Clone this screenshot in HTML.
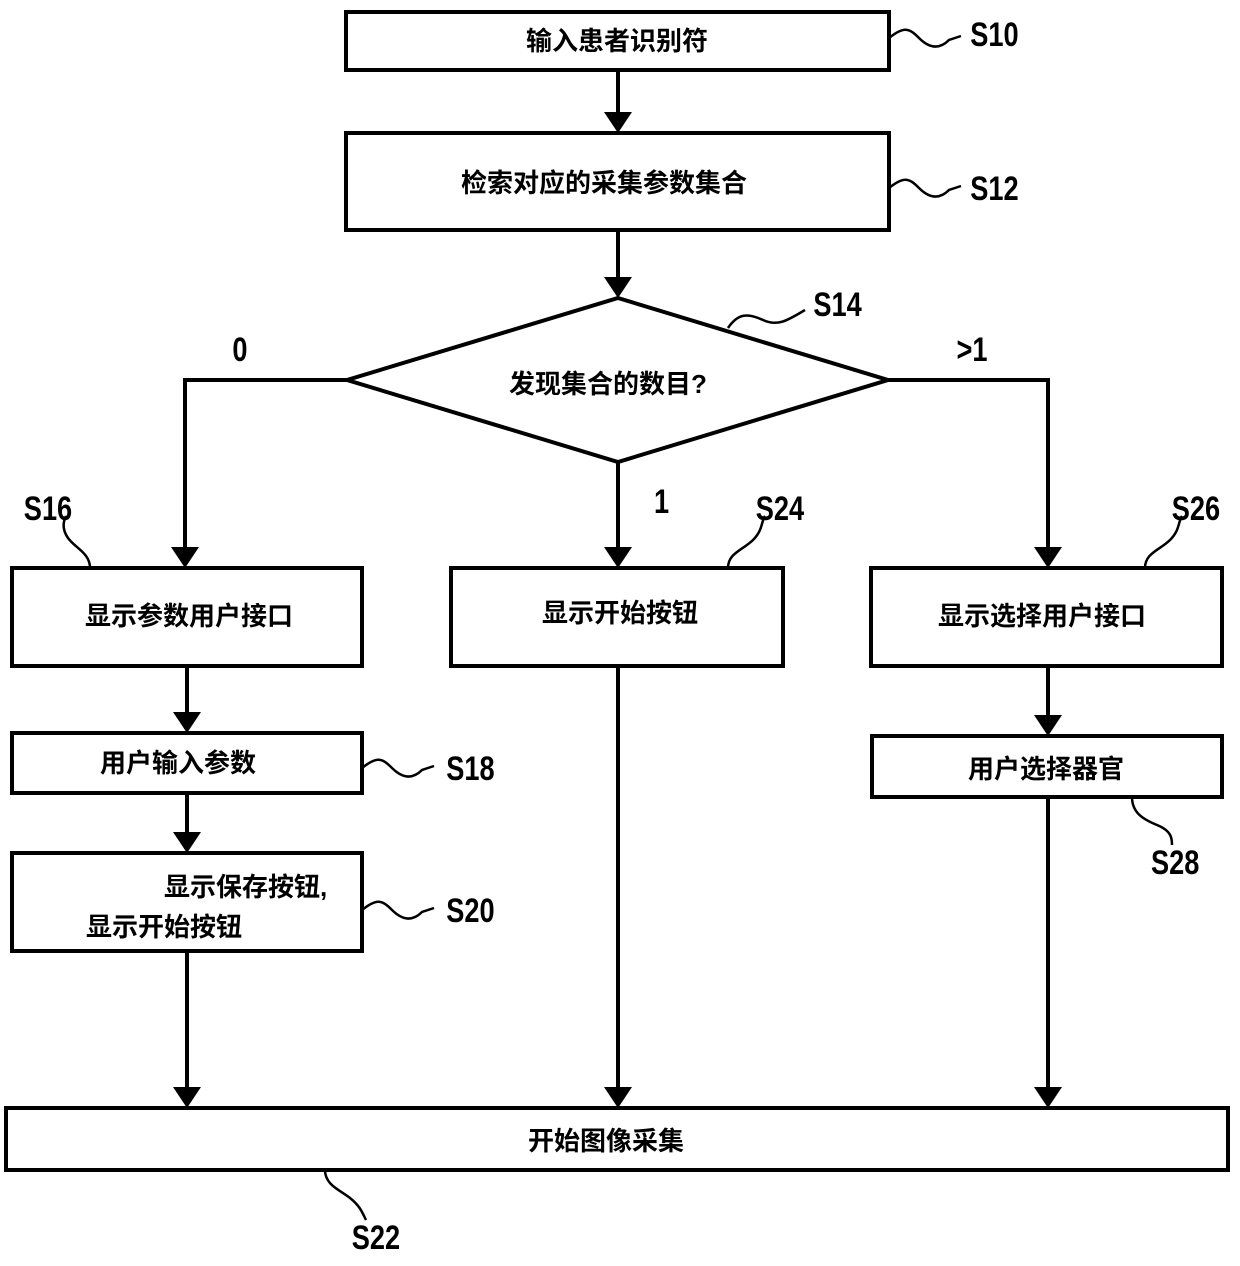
<!DOCTYPE html>
<html><head><meta charset="utf-8"><style>
body{margin:0;background:#fff}
svg text{font-family:"Liberation Sans","Noto Sans CJK SC",sans-serif;font-weight:bold;fill:#000}
.c{font-size:26px;text-anchor:middle}
.l{font-size:34px;text-anchor:middle}
</style></head><body>
<svg width="1240" height="1261" viewBox="0 0 1240 1261" xmlns="http://www.w3.org/2000/svg">
<defs><marker id="a" markerWidth="10" markerHeight="10" refX="9" refY="5" orient="auto" markerUnits="userSpaceOnUse" viewBox="0 0 10 10"><path d="M0,0 L10,5 L0,10z" fill="#000"/></marker></defs>
<g fill="none" stroke="#000" stroke-width="4">
<rect x="346" y="12" width="543" height="58"/>
<rect x="346" y="133" width="543" height="97"/>
<polygon points="618,298 888,380 618,462 347,380"/>
<rect x="12" y="568" width="350" height="98"/>
<rect x="451" y="568" width="332" height="98"/>
<rect x="871" y="568" width="351" height="98"/>
<rect x="12" y="733" width="350" height="60"/>
<rect x="872" y="736" width="350" height="61"/>
<rect x="12" y="853" width="350" height="98"/>
<rect x="6" y="1108" width="1222" height="62"/>
</g>
<g stroke="#000" stroke-width="4" fill="none">
<path d="M618 70V113"/><path d="M618 230V278"/>
<path d="M347 380H185V548"/><path d="M888 380H1048V548"/>
<path d="M618 462V548"/>
<path d="M187 666V713"/><path d="M187 793V833"/><path d="M187 951V1088"/>
<path d="M618 666V1088"/><path d="M1048 666V716"/><path d="M1048 797V1088"/>
</g>
<g fill="#000">
<path d="M604 112h28l-14 21z"/><path d="M604 277h28l-14 21z"/>
<path d="M171 547h28l-14 21z"/><path d="M604 547h28l-14 21z"/><path d="M1034 547h28l-14 21z"/>
<path d="M173 712h28l-14 21z"/><path d="M173 832h28l-14 21z"/><path d="M173 1087h28l-14 21z"/>
<path d="M604 1087h28l-14 21z"/><path d="M1034 715h28l-14 21z"/><path d="M1034 1087h28l-14 21z"/>
</g>
<g stroke="#000" stroke-width="2.5" fill="none">
<path d="M889 38c15-12 20-10 30 0s20 12 30 2l12-4"/>
<path d="M889 188c15-12 20-10 30 0s20 12 30 2l12-4"/>
<path d="M728 328c10-15 20-15 35-8s25 0 42-10"/>
<path d="M90 568c0-15-15-20-22-30s-4-18-2-22"/>
<path d="M728 568c0-15 15-18 25-28s8-18 12-24"/>
<path d="M1145 568c0-15 15-18 25-28s8-18 12-24"/>
<path d="M362 768c15-12 20-10 30 0s20 12 30 2l12-4"/>
<path d="M362 910c15-12 20-10 30 0s20 12 30 2l12-4"/>
<path d="M1132 797c0 15 10 22 25 28s15 14 15 20"/>
<path d="M325 1170c0 15 15 20 25 28s12 14 16 22"/>
</g>
<g class="c">
<text x="617" y="50">输入患者识别符</text>
<text x="604" y="192">检索对应的采集参数集合</text>
<text x="608" y="393">发现集合的数目?</text>
<text x="189" y="625">显示参数用户接口</text>
<text x="620" y="622">显示开始按钮</text>
<text x="1042" y="625">显示选择用户接口</text>
<text x="178" y="772">用户输入参数</text>
<text x="1046" y="778">用户选择器官</text>
<text x="164" y="896" style="text-anchor:start" x="70">显示保存按钮,</text>
<text x="164" y="936">显示开始按钮</text>
<text x="606" y="1150">开始图像采集</text>
</g>
<g class="l" transform="scale(0.8,1)">
<text x="1243" y="46">S10</text>
<text x="1243" y="200">S12</text>
<text x="1047" y="316">S14</text>
<text x="300" y="361">0</text>
<text x="1215" y="361">&gt;1</text>
<text x="827" y="513">1</text>
<text x="60" y="520">S16</text>
<text x="975" y="520">S24</text>
<text x="1495" y="520">S26</text>
<text x="588" y="780">S18</text>
<text x="588" y="922">S20</text>
<text x="1469" y="874">S28</text>
<text x="470" y="1249">S22</text>
</g>
</svg>
</body></html>
